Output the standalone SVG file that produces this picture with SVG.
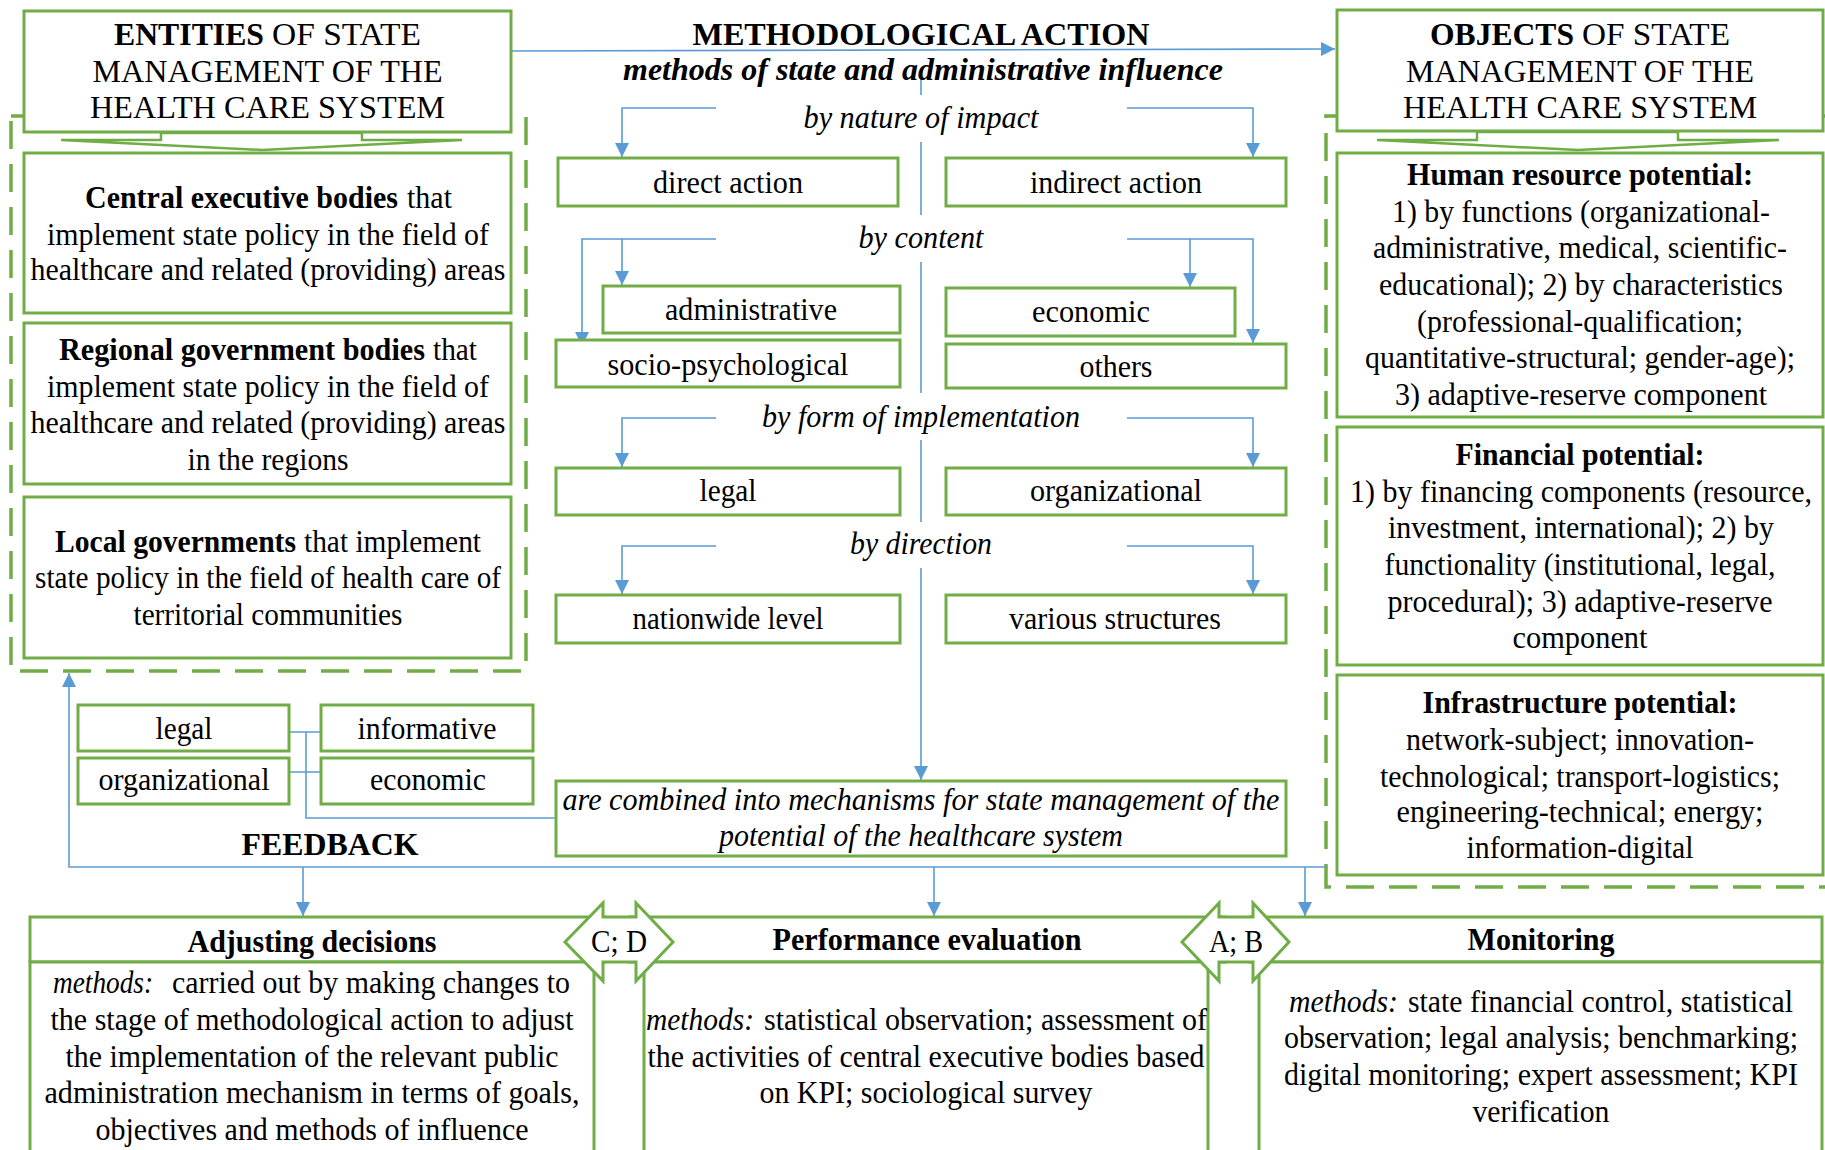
<svg xmlns="http://www.w3.org/2000/svg" width="1825" height="1150" viewBox="0 0 1825 1150">
<style>
.box{fill:#fff;stroke:#70AD47;stroke-width:3}
.chev{fill:#fff;stroke:#70AD47;stroke-width:2.5;stroke-linejoin:miter}
.dash{fill:none;stroke:#70AD47;stroke-width:3.5;stroke-dasharray:28 15}
.conn{fill:none;stroke:#5B9BD5;stroke-width:1.6}
.t{font-family:"Liberation Serif","Times New Roman",serif;font-size:31px;fill:#000;text-anchor:middle}
.s{text-anchor:start}
.b{font-weight:bold}
.i{font-style:italic}
</style>
<defs>
<marker id="ah" markerUnits="userSpaceOnUse" markerWidth="14" markerHeight="14" refX="14" refY="7" orient="auto">
<path d="M0,0 L14,7 L0,14 z" fill="#5B9BD5"/>
</marker>
</defs>
<rect width="1825" height="1150" fill="#fff"/>

<g id="entities-group">
<rect class="dash" x="11" y="116" width="515" height="555"/>
</g>
<g id="objects-group">
<rect class="dash" x="1326" y="116" width="520" height="771"/>
</g>

<g id="connectors">
<path class="conn" d="M511,51 L1335,49" marker-end="url(#ah)"/>
<path class="conn" d="M921,75 V95 M921,142 V215 M921,262 V393 M921,440 V522"/>
<path class="conn" d="M921,568 V780" marker-end="url(#ah)"/>
<path class="conn" d="M716,108 H622 V157" marker-end="url(#ah)"/>
<path class="conn" d="M1127,108 H1253 V157" marker-end="url(#ah)"/>
<path class="conn" d="M716,239 H582 V346" marker-end="url(#ah)"/>
<path class="conn" d="M622,239 V285" marker-end="url(#ah)"/>
<path class="conn" d="M1127,239 H1253 V343" marker-end="url(#ah)"/>
<path class="conn" d="M1190,239 V287" marker-end="url(#ah)"/>
<path class="conn" d="M716,418 H622 V467" marker-end="url(#ah)"/>
<path class="conn" d="M1127,418 H1253 V467" marker-end="url(#ah)"/>
<path class="conn" d="M716,546 H622 V594" marker-end="url(#ah)"/>
<path class="conn" d="M1127,546 H1253 V594" marker-end="url(#ah)"/>
<path class="conn" d="M289,732 H321 M289,772 H321 M306,732 V818 H556"/>
<path class="conn" d="M1326,867 H69 V673" marker-end="url(#ah)"/>
<path class="conn" d="M303,867 V916" marker-end="url(#ah)"/>
<path class="conn" d="M934,867 V916" marker-end="url(#ah)"/>
<path class="conn" d="M1305,867 V916" marker-end="url(#ah)"/>
</g>

<g id="entities">
<rect class="box" x="24" y="11" width="487" height="121"/>
<text class="t s b" x="114" y="45" textLength="150" lengthAdjust="spacingAndGlyphs">ENTITIES</text>
<text class="t s" x="272" y="45" textLength="149" lengthAdjust="spacingAndGlyphs">OF STATE</text>
<text class="t" x="267.5" y="82" textLength="350" lengthAdjust="spacingAndGlyphs">MANAGEMENT OF THE</text>
<text class="t" x="267.5" y="118" textLength="355" lengthAdjust="spacingAndGlyphs">HEALTH CARE SYSTEM</text>
<polygon class="chev" points="61,140 161,140 161,133 362,133 362,140 462,140 262,150"/>
</g>

<g id="central-executive">
<rect class="box" x="24" y="153" width="487" height="160"/>
<text class="t s b" x="85" y="208" textLength="313" lengthAdjust="spacingAndGlyphs">Central executive bodies</text>
<text class="t s" x="407" y="208" textLength="45" lengthAdjust="spacingAndGlyphs">that</text>
<text class="t" x="268" y="245" textLength="442" lengthAdjust="spacingAndGlyphs">implement state policy in the field of</text>
<text class="t" x="268" y="280" textLength="475" lengthAdjust="spacingAndGlyphs">healthcare and related (providing) areas</text>
</g>

<g id="regional">
<rect class="box" x="24" y="323" width="487" height="161"/>
<text class="t s b" x="59" y="360" textLength="366" lengthAdjust="spacingAndGlyphs">Regional government bodies</text>
<text class="t s" x="433" y="360" textLength="44" lengthAdjust="spacingAndGlyphs">that</text>
<text class="t" x="268" y="397" textLength="442" lengthAdjust="spacingAndGlyphs">implement state policy in the field of</text>
<text class="t" x="268" y="433" textLength="475" lengthAdjust="spacingAndGlyphs">healthcare and related (providing) areas</text>
<text class="t" x="268" y="470" textLength="161" lengthAdjust="spacingAndGlyphs">in the regions</text>
</g>

<g id="local">
<rect class="box" x="24" y="497" width="487" height="161"/>
<text class="t s b" x="55" y="552" textLength="241" lengthAdjust="spacingAndGlyphs">Local governments</text>
<text class="t s" x="304" y="552" textLength="177" lengthAdjust="spacingAndGlyphs">that implement</text>
<text class="t" x="268" y="588" textLength="466" lengthAdjust="spacingAndGlyphs">state policy in the field of health care of</text>
<text class="t" x="268" y="625" textLength="269" lengthAdjust="spacingAndGlyphs">territorial communities</text>
</g>

<g id="objects">
<rect class="box" x="1337" y="10" width="486" height="121"/>
<text class="t s b" x="1430" y="45" textLength="144" lengthAdjust="spacingAndGlyphs">OBJECTS</text>
<text class="t s" x="1582" y="45" textLength="148" lengthAdjust="spacingAndGlyphs">OF STATE</text>
<text class="t" x="1580" y="82" textLength="348" lengthAdjust="spacingAndGlyphs">MANAGEMENT OF THE</text>
<text class="t" x="1580" y="118" textLength="354" lengthAdjust="spacingAndGlyphs">HEALTH CARE SYSTEM</text>
<polygon class="chev" points="1377,140 1477,140 1477,132 1678,132 1678,140 1779,140 1578,150"/>
</g>

<g id="human-resource">
<rect class="box" x="1337" y="153" width="486" height="264"/>
<text class="t b" x="1580" y="185" textLength="346" lengthAdjust="spacingAndGlyphs">Human resource potential:</text>
<text class="t" x="1581" y="222" textLength="378" lengthAdjust="spacingAndGlyphs">1) by functions (organizational-</text>
<text class="t" x="1580" y="258" textLength="414" lengthAdjust="spacingAndGlyphs">administrative, medical, scientific-</text>
<text class="t" x="1581" y="295" textLength="404" lengthAdjust="spacingAndGlyphs">educational); 2) by characteristics</text>
<text class="t" x="1580" y="332" textLength="326" lengthAdjust="spacingAndGlyphs">(professional-qualification;</text>
<text class="t" x="1580" y="368" textLength="430" lengthAdjust="spacingAndGlyphs">quantitative-structural; gender-age);</text>
<text class="t" x="1581" y="405" textLength="372" lengthAdjust="spacingAndGlyphs">3) adaptive-reserve component</text>
</g>

<g id="financial">
<rect class="box" x="1337" y="427" width="486" height="238"/>
<text class="t b" x="1580" y="465" textLength="249" lengthAdjust="spacingAndGlyphs">Financial potential:</text>
<text class="t" x="1581" y="502" textLength="462" lengthAdjust="spacingAndGlyphs">1) by financing components (resource,</text>
<text class="t" x="1581" y="538" textLength="386" lengthAdjust="spacingAndGlyphs">investment, international); 2) by</text>
<text class="t" x="1580" y="575" textLength="391" lengthAdjust="spacingAndGlyphs">functionality (institutional, legal,</text>
<text class="t" x="1580" y="612" textLength="385" lengthAdjust="spacingAndGlyphs">procedural); 3) adaptive-reserve</text>
<text class="t" x="1580" y="648" textLength="135" lengthAdjust="spacingAndGlyphs">component</text>
</g>

<g id="infrastructure">
<rect class="box" x="1337" y="675" width="486" height="200"/>
<text class="t b" x="1580" y="713" textLength="315" lengthAdjust="spacingAndGlyphs">Infrastructure potential:</text>
<text class="t" x="1580" y="750" textLength="348" lengthAdjust="spacingAndGlyphs">network-subject; innovation-</text>
<text class="t" x="1580" y="787" textLength="400" lengthAdjust="spacingAndGlyphs">technological; transport-logistics;</text>
<text class="t" x="1580" y="822" textLength="367" lengthAdjust="spacingAndGlyphs">engineering-technical; energy;</text>
<text class="t" x="1580" y="858" textLength="227" lengthAdjust="spacingAndGlyphs">information-digital</text>
</g>

<g id="methodological-action">
<text class="t b" x="921" y="45" textLength="457" lengthAdjust="spacingAndGlyphs">METHODOLOGICAL ACTION</text>
<text class="t b i" x="923" y="80" textLength="600" lengthAdjust="spacingAndGlyphs">methods of state and administrative influence</text>
<text class="t i" x="921" y="128" textLength="235" lengthAdjust="spacingAndGlyphs">by nature of impact</text>
<text class="t i" x="921" y="248" textLength="125" lengthAdjust="spacingAndGlyphs">by content</text>
<text class="t i" x="921" y="427" textLength="318" lengthAdjust="spacingAndGlyphs">by form of implementation</text>
<text class="t i" x="921" y="554" textLength="142" lengthAdjust="spacingAndGlyphs">by direction</text>
</g>

<g id="direct-action">
<rect class="box" x="558" y="158" width="340" height="48"/>
<text class="t" x="728" y="193" textLength="150" lengthAdjust="spacingAndGlyphs">direct action</text>
</g>
<g id="indirect-action">
<rect class="box" x="946" y="158" width="340" height="48"/>
<text class="t" x="1116" y="193" textLength="172" lengthAdjust="spacingAndGlyphs">indirect action</text>
</g>
<g id="administrative">
<rect class="box" x="603" y="286" width="297" height="47"/>
<text class="t" x="751" y="320" textLength="172" lengthAdjust="spacingAndGlyphs">administrative</text>
</g>
<g id="socio-psychological">
<rect class="box" x="556" y="340" width="344" height="47"/>
<text class="t" x="728" y="375" textLength="241" lengthAdjust="spacingAndGlyphs">socio-psychological</text>
</g>
<g id="economic">
<rect class="box" x="946" y="288" width="289" height="48"/>
<text class="t" x="1091" y="322" textLength="118" lengthAdjust="spacingAndGlyphs">economic</text>
</g>
<g id="others">
<rect class="box" x="946" y="344" width="340" height="44"/>
<text class="t" x="1116" y="377" textLength="73" lengthAdjust="spacingAndGlyphs">others</text>
</g>
<g id="legal-form">
<rect class="box" x="556" y="468" width="344" height="47"/>
<text class="t" x="728" y="501" textLength="57" lengthAdjust="spacingAndGlyphs">legal</text>
</g>
<g id="organizational-form">
<rect class="box" x="946" y="468" width="340" height="47"/>
<text class="t" x="1116" y="501" textLength="172" lengthAdjust="spacingAndGlyphs">organizational</text>
</g>
<g id="nationwide-level">
<rect class="box" x="556" y="595" width="344" height="48"/>
<text class="t" x="728" y="629" textLength="191" lengthAdjust="spacingAndGlyphs">nationwide level</text>
</g>
<g id="various-structures">
<rect class="box" x="946" y="595" width="340" height="48"/>
<text class="t" x="1115" y="629" textLength="212" lengthAdjust="spacingAndGlyphs">various structures</text>
</g>

<g id="mechanisms">
<rect class="box" x="556" y="781" width="730" height="75"/>
<text class="t i" x="921" y="810" textLength="717" lengthAdjust="spacingAndGlyphs">are combined into mechanisms for state management of the</text>
<text class="t i" x="921" y="846" textLength="404" lengthAdjust="spacingAndGlyphs">potential of the healthcare system</text>
</g>

<g id="legal-fb">
<rect class="box" x="78" y="705" width="211" height="46"/>
<text class="t" x="184" y="739" textLength="57" lengthAdjust="spacingAndGlyphs">legal</text>
</g>
<g id="informative-fb">
<rect class="box" x="321" y="705" width="212" height="46"/>
<text class="t" x="427" y="739" textLength="139" lengthAdjust="spacingAndGlyphs">informative</text>
</g>
<g id="organizational-fb">
<rect class="box" x="78" y="758" width="211" height="46"/>
<text class="t" x="184" y="790" textLength="171" lengthAdjust="spacingAndGlyphs">organizational</text>
</g>
<g id="economic-fb">
<rect class="box" x="321" y="758" width="212" height="46"/>
<text class="t" x="428" y="790" textLength="116" lengthAdjust="spacingAndGlyphs">economic</text>
</g>
<g id="feedback">
<text class="t b" x="330" y="855" textLength="177" lengthAdjust="spacingAndGlyphs">FEEDBACK</text>
</g>

<g id="adjusting">
<rect class="box" x="30" y="917" width="575" height="45"/>
<rect class="box" x="30" y="962" width="564" height="200"/>
<text class="t b" x="312" y="952" textLength="249" lengthAdjust="spacingAndGlyphs">Adjusting decisions</text>
<text class="t s i" x="53" y="993" textLength="100" lengthAdjust="spacingAndGlyphs">methods:</text>
<text class="t s" x="172" y="993" textLength="398" lengthAdjust="spacingAndGlyphs">carried out by making changes to</text>
<text class="t" x="312" y="1030" textLength="523" lengthAdjust="spacingAndGlyphs">the stage of methodological action to adjust</text>
<text class="t" x="312" y="1067" textLength="493" lengthAdjust="spacingAndGlyphs">the implementation of the relevant public</text>
<text class="t" x="312" y="1103" textLength="535" lengthAdjust="spacingAndGlyphs">administration mechanism in terms of goals,</text>
<text class="t" x="312" y="1140" textLength="433" lengthAdjust="spacingAndGlyphs">objectives and methods of influence</text>
</g>

<g id="performance">
<rect class="box" x="630" y="917" width="595" height="45"/>
<rect class="box" x="644" y="962" width="564" height="200"/>
<text class="t b" x="927" y="950" textLength="309" lengthAdjust="spacingAndGlyphs">Performance evaluation</text>
<text class="t s i" x="646" y="1030" textLength="108" lengthAdjust="spacingAndGlyphs">methods:</text>
<text class="t s" x="764" y="1030" textLength="443" lengthAdjust="spacingAndGlyphs">statistical observation; assessment of</text>
<text class="t" x="926" y="1067" textLength="557" lengthAdjust="spacingAndGlyphs">the activities of central executive bodies based</text>
<text class="t" x="926" y="1103" textLength="333" lengthAdjust="spacingAndGlyphs">on KPI; sociological survey</text>
</g>

<g id="monitoring">
<rect class="box" x="1250" y="917" width="572" height="45"/>
<rect class="box" x="1259" y="962" width="563" height="200"/>
<text class="t b" x="1541" y="950" textLength="147" lengthAdjust="spacingAndGlyphs">Monitoring</text>
<text class="t s i" x="1289" y="1012" textLength="109" lengthAdjust="spacingAndGlyphs">methods:</text>
<text class="t s" x="1408" y="1012" textLength="385" lengthAdjust="spacingAndGlyphs">state financial control, statistical</text>
<text class="t" x="1541" y="1048" textLength="514" lengthAdjust="spacingAndGlyphs">observation; legal analysis; benchmarking;</text>
<text class="t" x="1541" y="1085" textLength="514" lengthAdjust="spacingAndGlyphs">digital monitoring; expert assessment; KPI</text>
<text class="t" x="1541" y="1122" textLength="137" lengthAdjust="spacingAndGlyphs">verification</text>
</g>

<g id="link-cd">
<polygon class="box" points="565,942 603,903 603,917 636,917 636,903 673,942 636,981 636,962 603,962 603,981"/>
<text class="t" x="619" y="952" textLength="56" lengthAdjust="spacingAndGlyphs">C; D</text>
</g>
<g id="link-ab">
<polygon class="box" points="1182,942 1219,903 1219,917 1253,917 1253,903 1289,942 1253,981 1253,962 1219,962 1219,981"/>
<text class="t" x="1236" y="952" textLength="54" lengthAdjust="spacingAndGlyphs">A; B</text>
</g>
</svg>
